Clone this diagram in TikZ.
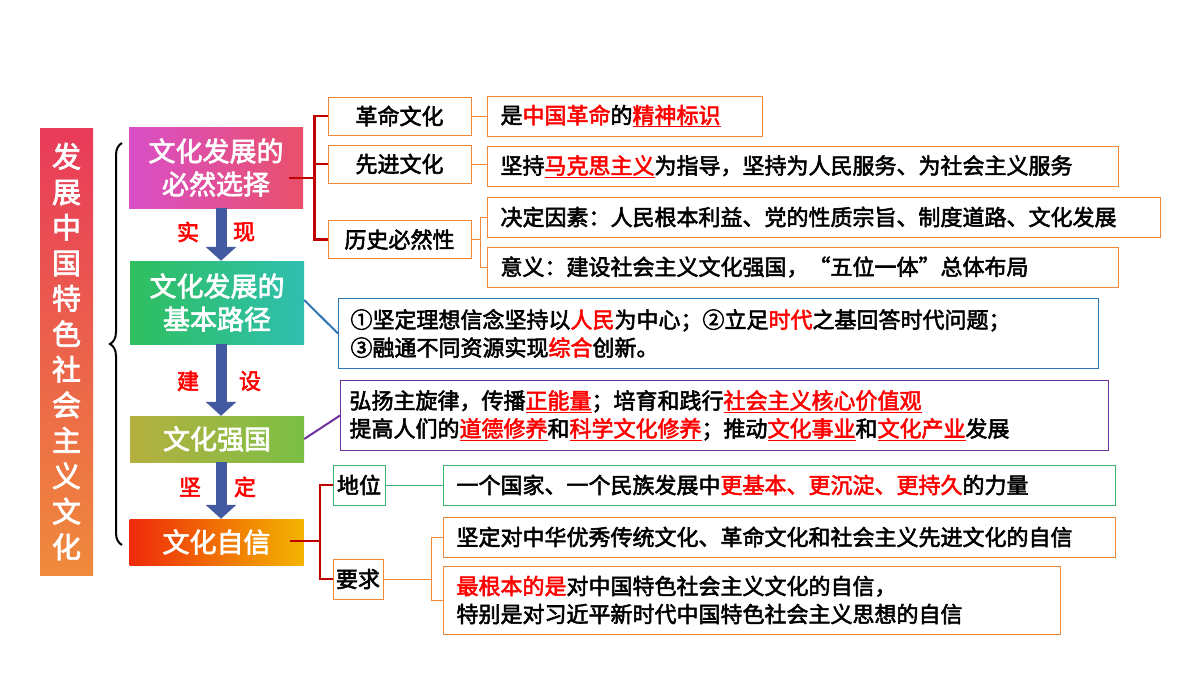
\documentclass[tikz,border=0pt]{standalone}
\usepackage{fontspec}
\setmainfont{Noto Sans CJK SC}[AutoFakeBold=2.5]
\usetikzlibrary{positioning, arrows.meta, decorations.pathreplacing}
\definecolor{boxorange}{HTML}{F0883A}
\definecolor{lineblue}{HTML}{2E75B6}
\definecolor{linepurple}{HTML}{7030A0}
\definecolor{linegreen}{HTML}{3CB371}
\definecolor{darkred}{HTML}{C00000}
\definecolor{arrowblue}{HTML}{445AA0}
\newcommand{\hl}[1]{\textcolor{red}{#1}}
\newcommand{\hlu}[1]{\textcolor{red}{\underline{#1}}}

\begin{document}
\begin{tikzpicture}[x=1pt, y=-1pt, font=\bfseries\fontsize{22}{28}\selectfont,
    mainbox/.style={minimum width=174pt, text=white, align=center, font=\bfseries\fontsize{27}{33}\selectfont, inner sep=0pt},
    catbox/.style={draw=boxorange, line width=1pt, minimum width=143pt, minimum height=38pt, inner sep=0pt},
    infobox/.style={draw=boxorange, line width=1pt, anchor=west, minimum height=40pt, inner sep=0pt, align=left},
    flowarrow/.style={-{Triangle[width=30pt, length=14pt]}, line width=11pt, arrowblue},
    redlbl/.style={text=red, font=\bfseries\fontsize{22}{24}\selectfont},
    redlink/.style={darkred, line width=2.5pt},
    thinlink/.style={boxorange, line width=1pt}]
    \useasboundingbox (0,0) rectangle (1200,675);

    % title bar
    \node[top color={rgb,255:red,232;green,58;blue,90}, bottom color={rgb,255:red,239;green,138;blue,60}, minimum width=53pt, minimum height=447pt, inner sep=0pt, text=white, align=center, font=\bfseries\fontsize{29}{35.5}\selectfont] (title) at (66.5,351.5) {发\\展\\中\\国\\特\\色\\社\\会\\主\\义\\文\\化};
    \draw[decorate, decoration={brace, amplitude=12pt}, line width=2pt] (122,545) -- (122,143);

    % main chain
    \node[mainbox, minimum height=81pt, left color={rgb,255:red,217;green,79;blue,200}, right color={rgb,255:red,232;green,80;blue,106}] (choice) at (216,167.5) {文化发展的\\必然选择};
    \node[mainbox, minimum height=83pt, left color={rgb,255:red,47;green,191;blue,94}, right color={rgb,255:red,47;green,191;blue,176}] (path) at (217,302.5) {文化发展的\\基本路径};
    \node[mainbox, minimum height=46pt, left color={rgb,255:red,181;green,176;blue,64}, right color={rgb,255:red,123;green,191;blue,69}] (power) at (217,439) {文化强国};
    \node[mainbox, minimum height=46pt, left color={rgb,255:red,238;green,42;blue,10}, right color={rgb,255:red,243;green,180;blue,0}] (confid) at (216.5,542) {文化自信};

    \draw[flowarrow] (choice.south -| 221,0) -- (path.north -| 221,0);
    \draw[flowarrow] (path.south -| 221,0) -- (power.north -| 221,0);
    \draw[flowarrow] (power.south -| 221,0) -- (confid.north -| 221,0);
    \node[redlbl] at (188,232) {实};
    \node[redlbl] at (244,232) {现};
    \node[redlbl] at (188,381) {建};
    \node[redlbl] at (250,381) {设};
    \node[redlbl] at (190,487) {坚};
    \node[redlbl] at (245,487) {定};

    % necessity branch
    \node[catbox] (revol) at (399.5,116) {革命文化};
    \node[catbox] (advan) at (399.5,164) {先进文化};
    \node[catbox] (histo) at (399.5,239.5) {历史必然性};
    \coordinate (jA) at (316,178);
    \draw[redlink] (choice.east |- jA) ++(-14,0) -- (jA);
    \draw[redlink] (revol.west) -- ++(-13,0) |- (histo.west);
    \draw[redlink] (316,164) -- (advan.west);

    \node[infobox, text width=265pt, minimum width=275pt] (mark) at (487,116) {\hspace{8pt}是\hl{中国革命}的\hlu{精神标识}};
    \node[infobox, text width=621pt, minimum width=631pt] (guide) at (487,166.5) {\hspace{8pt}坚持\hlu{马克思主义}为指导，坚持为人民服务、为社会主义服务};
    \node[infobox, text width=663pt, minimum width=673pt] (factor) at (487,217) {\hspace{8pt}决定因素：人民根本利益、党的性质宗旨、制度道路、文化发展};
    \node[infobox, text width=621pt, minimum width=631pt] (mean) at (487,267) {\hspace{8pt}意义：建设社会主义文化强国，“五位一体”总体布局};
    \draw[thinlink] (revol.east) -- (mark.west);
    \draw[thinlink] (advan.east) -- (guide.west |- advan.east);
    \draw[thinlink] (histo.east) -- (480,239.5);
    \draw[thinlink] (factor.west) -- ++(-7,0) |- (mean.west);

    % path and power
    \node[draw=lineblue, line width=1pt, anchor=north west, minimum width=760pt, minimum height=70pt, text width=748pt, align=left, inner sep=0pt] (road) at (338,298) {\hspace{6pt}①坚定理想信念坚持以\hl{人民}为中心；②立足\hl{时代}之基回答时代问题；\\\hspace{6pt}③融通不同资源实现\hl{综合}创新。};
    \draw[lineblue, line width=2pt] (path.east |- 0,300) -- (road.west);
    \node[draw=linepurple, line width=1pt, anchor=north west, minimum width=768pt, minimum height=70pt, text width=762pt, align=left, inner sep=0pt] (build) at (340,380) {\hspace{6pt}弘扬主旋律，传播\hlu{正能量}；培育和践行\hlu{社会主义核心价值观}\\\hspace{6pt}提高人们的\hlu{道德修养}和\hlu{科学文化修养}；推动\hlu{文化事业}和\hlu{文化产业}发展};
    \draw[linepurple, line width=2pt] (power.east) -- (build.west);

    % confidence branch
    \node[draw=linegreen, line width=1pt, minimum width=52pt, minimum height=40pt, inner sep=0pt] (status) at (359,485) {地位};
    \node[catbox, minimum width=50pt, minimum height=40pt] (demand) at (358,579) {要求};
    \coordinate (jD) at (320,541);
    \draw[redlink] (confid.east |- jD) ++(-14,0) -- (jD);
    \draw[redlink] (status.west) -- (320,485) -- (320,579) -- (demand.west);

    \node[infobox, draw=linegreen, text width=662pt, minimum width=672pt] (force) at (443,485) {\hspace{8pt}一个国家、一个民族发展中\hl{更基本、更沉淀、更持久}的力量};
    \draw[linegreen, line width=1pt] (status.east) -- (force.west);
    \node[infobox, text width=662pt, minimum width=672pt] (trad) at (443,537) {\hspace{8pt}坚定对中华优秀传统文化、革命文化和社会主义先进文化的自信};
    \node[infobox, text width=607pt, minimum width=617pt, minimum height=68pt] (root) at (443,600) {\hspace{8pt}\hl{最根本的是}对中国特色社会主义文化的自信，\\\hspace{8pt}特别是对习近平新时代中国特色社会主义思想的自信};
    \draw[thinlink] (demand.east) -- (431,579);
    \draw[thinlink] (trad.west) -- (431,537) |- (root.west);
\end{tikzpicture}
\end{document}
